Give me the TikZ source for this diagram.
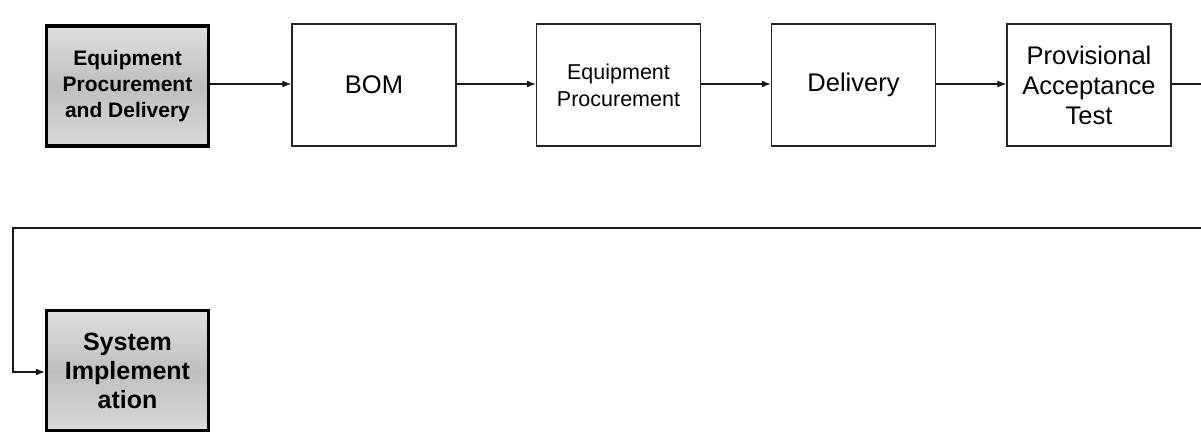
\documentclass[tikz,border=0pt]{standalone}
\usepackage{fontspec}
\setmainfont{Liberation Sans}
\usetikzlibrary{arrows.meta}
\begin{document}
\begin{tikzpicture}[x=1pt,y=-1pt,
  stepbox/.style={draw=black!85, line width=1.2pt, minimum width=164pt, minimum height=122pt,
    inner sep=0pt, fill=white, align=center, font=\fontsize{25.5}{30}\selectfont},
  smallbox/.style={stepbox, font=\fontsize{21.5}{27}\selectfont},
  keybox/.style={draw=black, line width=3.2pt, minimum width=162pt, minimum height=120pt,
    inner sep=0pt, align=center, top color=gray!25, bottom color=gray!30, middle color=gray!50},
  conn/.style={draw=black!90, line width=1.2pt, -{Latex[length=9pt,width=7pt]}}]
\useasboundingbox (0,0) rectangle (1201,434);
\fill[white] (0,0) rectangle (1201,434);
\node[keybox, font=\bfseries\fontsize{21}{26}\selectfont] (epd) at (127.5,86) {Equipment\\Procurement\\and Delivery};
\node[stepbox] (bom) at (374,85) {BOM};
\node[smallbox] (ep) at (618.5,85) {Equipment\\Procurement};
\node[stepbox] (del) at (853.5,85) {Delivery};
\node[stepbox] (pat) at (1089,85) {Provisional\\Acceptance\\Test};
\node[keybox, font=\bfseries\fontsize{25}{29}\selectfont] (si) at (127.5,370.5) {System\\Implement\\ation};
\coordinate (r1) at (1210,84);
\coordinate (r2) at (1210,228);
\coordinate (l1) at (13,228);
\coordinate (l2) at (13,372);
\draw[conn] (epd.east |- 0,84) -- (bom.west |- 0,84);
\draw[conn] (bom.east |- 0,84) -- (ep.west |- 0,84);
\draw[conn] (ep.east |- 0,84) -- (del.west |- 0,84);
\draw[conn] (del.east |- 0,84) -- (pat.west |- 0,84);
\draw[conn] (pat.east |- 0,84) -- (r1) -- (r2) -- (l1) -- (l2) -- (si.west |- l2);
\end{tikzpicture}
\end{document}
